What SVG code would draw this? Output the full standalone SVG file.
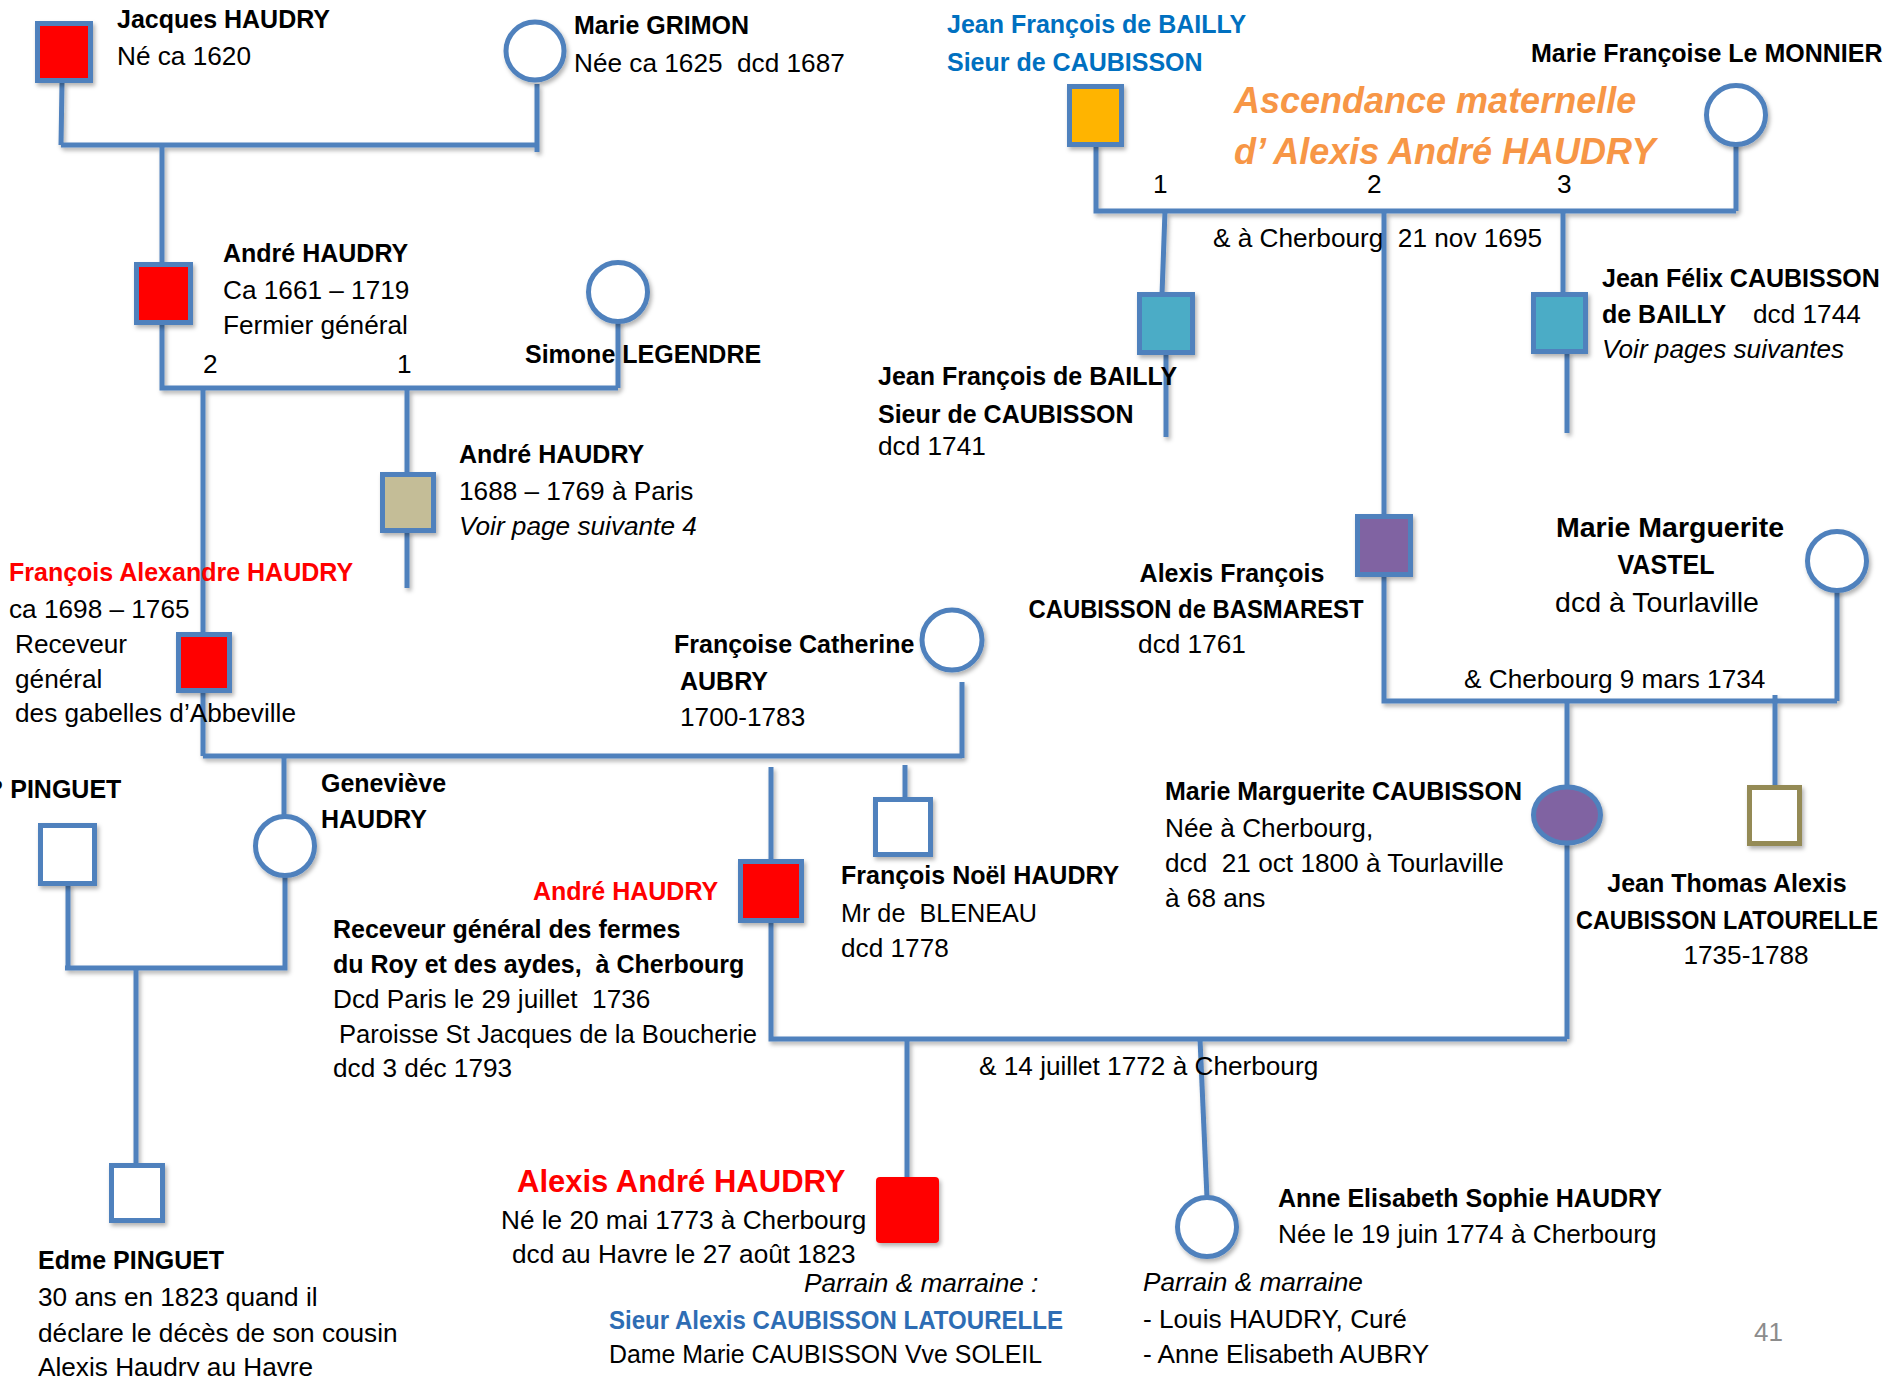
<svg xmlns="http://www.w3.org/2000/svg" width="1893" height="1376" viewBox="0 0 1893 1376">
<style>
text{font-family:"Liberation Sans",Arial,sans-serif;font-size:26.2px;fill:#000}
.b{font-weight:bold;font-size:25px}
.i{font-style:italic}
.red{fill:#FF0000}
.blue{fill:#0070C0}
.blue2{fill:#2E6DB4}
.title{font-weight:bold;font-style:italic;font-size:36px;fill:#F79646}
.mid{text-anchor:middle}
.big{font-size:28.5px}
.ln{stroke:#4F81BD;stroke-width:5;fill:none}
.nd{stroke:#4F81BD;stroke-width:5}
.white{fill:#FFFFFF}
.fred{fill:#FF0000}
.teal{fill:#4BACC6}
.purple{fill:#8064A2}
.beige{fill:#C4BD97}
.amber{fill:#FFB400}
</style>
<defs>
<filter id="sh" x="-30%" y="-30%" width="160%" height="160%">
<feDropShadow dx="2" dy="3" stdDeviation="2" flood-color="#000" flood-opacity="0.3"/>
</filter>
</defs>
<rect width="1893" height="1376" fill="#FFFFFF"/>
<g id="connectors" class="ln" filter="url(#sh)">
<path d="M62,83 L61,145 M61,145 H537 M537,84 V152"/>
<path d="M162,145 V265"/>
<path d="M162,323 V388 H618 M618,321 V388"/>
<path d="M203,388 V756"/>
<path d="M407,388 V475 M407,531 V588"/>
<path d="M203,756 H962 M962,682 V758"/>
<path d="M284,756 V817"/>
<path d="M285,875 V968 H65 M68,884 V968"/>
<path d="M136,968 V1166"/>
<path d="M771,767 V862"/>
<path d="M905,765 V800"/>
<path d="M771,921 V1039 H1567 M1567,842 V1039"/>
<path d="M907,1039 V1179"/>
<path d="M1200,1039 L1207,1198"/>
<path d="M1096,145 V211 H1736 M1736,143 V211"/>
<path d="M1165,211 L1162,295 M1166,353 V437"/>
<path d="M1384,211 V517 M1384,575 V701 H1837 M1837,589 V701"/>
<path d="M1563,211 V295 M1567,352 V433"/>
<path d="M1567,701 V788"/>
<path d="M1775,695 V788"/>
</g>
<g id="n-jacques">
<rect class="nd fred" x="37.5" y="23.5" width="53" height="57" filter="url(#sh)"/>
<text class="b" x="117" y="28">Jacques HAUDRY</text>
<text x="117" y="65">Né ca 1620</text>
</g>
<g id="n-grimon">
<circle class="nd white" cx="535" cy="51" r="29" filter="url(#sh)"/>
<text class="b" x="574" y="34">Marie GRIMON</text>
<text x="574" y="72">Née ca 1625&#160; dcd 1687</text>
</g>
<g id="n-andre1661">
<rect class="nd fred" x="136.5" y="264.5" width="54" height="58" filter="url(#sh)"/>
<text class="b" x="223" y="262">André HAUDRY</text>
<text x="223" y="299">Ca 1661 – 1719</text>
<text x="223" y="334">Fermier général</text>
<text x="203" y="373">2</text>
<text x="397" y="373">1</text>
</g>
<g id="n-simone">
<circle class="nd white" cx="618" cy="292" r="29.5" filter="url(#sh)"/>
<text class="b" x="525" y="363">Simone LEGENDRE</text>
</g>
<g id="n-andre1688">
<rect class="nd beige" x="382.5" y="474.5" width="51" height="56" filter="url(#sh)"/>
<text class="b" x="459" y="463">André HAUDRY</text>
<text x="459" y="500">1688 – 1769 à Paris</text>
<text class="i" x="459" y="535">Voir page suivante 4</text>
</g>
<g id="n-francois-alexandre">
<rect class="nd fred" x="178.5" y="634.5" width="51" height="56" filter="url(#sh)"/>
<text class="b red" x="9" y="581">François Alexandre HAUDRY</text>
<text x="9" y="618">ca 1698 – 1765</text>
<text x="15" y="653">Receveur</text>
<text x="15" y="688">général</text>
<text x="15" y="722">des gabelles d’Abbeville</text>
</g>
<g id="n-francoise-catherine">
<circle class="nd white" cx="952" cy="640" r="30" filter="url(#sh)"/>
<text class="b" x="674" y="653">Françoise Catherine</text>
<text class="b" x="680" y="690">AUBRY</text>
<text x="680" y="726">1700-1783</text>
</g>
<g id="n-pinguet">
<rect class="nd white" x="40.5" y="825.5" width="54" height="58" filter="url(#sh)"/>
<text class="b" x="-12" y="798">? PINGUET</text>
</g>
<g id="n-genevieve">
<circle class="nd white" cx="285" cy="846" r="29.5" filter="url(#sh)"/>
<text class="b" x="321" y="792">Geneviève</text>
<text class="b" x="321" y="828">HAUDRY</text>
</g>
<g id="n-edme">
<rect class="nd white" x="111.5" y="1165.5" width="51" height="55" filter="url(#sh)"/>
<text class="b" x="38" y="1269">Edme PINGUET</text>
<text x="38" y="1306">30 ans en 1823 quand il</text>
<text x="38" y="1342">déclare le décès de son cousin</text>
<text x="38" y="1376">Alexis Haudry au Havre</text>
</g>
<g id="n-francois-noel">
<rect class="nd white" x="875.5" y="799.5" width="55" height="55" filter="url(#sh)"/>
<text class="b" x="841" y="884">François Noël HAUDRY</text>
<text x="841" y="922" textLength="196" lengthAdjust="spacingAndGlyphs">Mr de&#160; BLENEAU</text>
<text x="841" y="957">dcd 1778</text>
</g>
<g id="n-andre-cherbourg">
<rect class="nd fred" x="740.5" y="861.5" width="61" height="59" filter="url(#sh)"/>
<text class="b red" x="533" y="900">André HAUDRY</text>
<text class="b" x="333" y="938">Receveur général des fermes</text>
<text class="b" x="333" y="973">du Roy et des aydes,&#160; à Cherbourg</text>
<text x="333" y="1008">Dcd Paris le 29 juillet&#160; 1736</text>
<text x="339" y="1043" textLength="418" lengthAdjust="spacingAndGlyphs">Paroisse St Jacques de la Boucherie</text>
<text x="333" y="1077">dcd 3 déc 1793</text>
</g>
<g id="marriage-1772">
<text x="979" y="1075">&amp; 14 juillet 1772 à Cherbourg</text>
</g>
<g id="n-alexis-andre">
<rect class="fred" x="876" y="1177" width="63" height="66" rx="4" filter="url(#sh)"/>
<text class="b red" style="font-size:31px" x="517" y="1192">Alexis André HAUDRY</text>
<text x="501" y="1229">Né le 20 mai 1773 à Cherbourg</text>
<text x="512" y="1263">dcd au Havre le 27 août 1823</text>
<text class="i" x="804" y="1292">Parrain &amp; marraine :</text>
<text class="b blue2" x="609" y="1329" textLength="454" lengthAdjust="spacingAndGlyphs">Sieur Alexis CAUBISSON LATOURELLE</text>
<text x="609" y="1363" textLength="433" lengthAdjust="spacingAndGlyphs">Dame Marie CAUBISSON Vve SOLEIL</text>
</g>
<g id="n-anne">
<circle class="nd white" cx="1207" cy="1227" r="29.5" filter="url(#sh)"/>
<text class="b" x="1278" y="1207">Anne Elisabeth Sophie HAUDRY</text>
<text x="1278" y="1243">Née le 19 juin 1774 à Cherbourg</text>
<text class="i" x="1143" y="1291">Parrain &amp; marraine</text>
<text x="1143" y="1328">- Louis HAUDRY, Curé</text>
<text x="1143" y="1363">- Anne Elisabeth AUBRY</text>
</g>
<g id="n-bailly">
<rect class="nd amber" x="1069.5" y="86.5" width="52" height="58" filter="url(#sh)"/>
<text class="b blue" x="947" y="33">Jean François de BAILLY</text>
<text class="b blue" x="947" y="71">Sieur de CAUBISSON</text>
<text x="1153" y="193">1</text>
<text x="1367" y="193">2</text>
<text x="1557" y="193">3</text>
<text x="1213" y="247">&amp; à Cherbourg&#160; 21 nov 1695</text>
</g>
<g id="n-monnier">
<circle class="nd white" cx="1736" cy="115" r="29.5" filter="url(#sh)"/>
<text class="b" x="1531" y="62">Marie Françoise Le MONNIER</text>
</g>
<g id="title">
<text class="title" x="1234" y="113">Ascendance maternelle</text>
<text class="title" x="1234" y="164">d’ Alexis André HAUDRY</text>
</g>
<g id="n-jf-bailly-1741">
<rect class="nd teal" x="1139.5" y="294.5" width="53" height="58" filter="url(#sh)"/>
<text class="b" x="878" y="385">Jean François de BAILLY</text>
<text class="b" x="878" y="423">Sieur de CAUBISSON</text>
<text x="878" y="455">dcd 1741</text>
</g>
<g id="n-jean-felix">
<rect class="nd teal" x="1533.5" y="294.5" width="52" height="57" filter="url(#sh)"/>
<text class="b" x="1602" y="287">Jean Félix CAUBISSON</text>
<text class="b" x="1602" y="323">de BAILLY</text>
<text x="1753" y="323">dcd 1744</text>
<text class="i" x="1602" y="358">Voir pages suivantes</text>
</g>
<g id="n-alexis-francois">
<rect class="nd purple" x="1357.5" y="516.5" width="53" height="58" filter="url(#sh)"/>
<text class="b mid" x="1232" y="582">Alexis François</text>
<text class="b mid" x="1196" y="618" textLength="335" lengthAdjust="spacingAndGlyphs">CAUBISSON de BASMAREST</text>
<text class="mid" x="1192" y="653">dcd 1761</text>
</g>
<g id="n-vastel">
<circle class="nd white" cx="1837" cy="561" r="29.5" filter="url(#sh)"/>
<text class="b mid big" x="1670" y="537">Marie Marguerite</text>
<text class="b mid big" x="1666" y="574" textLength="97" lengthAdjust="spacingAndGlyphs">VASTEL</text>
<text class="mid big" x="1657" y="612">dcd à Tourlaville</text>
<text x="1464" y="688">&amp; Cherbourg 9 mars 1734</text>
</g>
<g id="n-marie-marguerite">
<ellipse class="nd purple" cx="1567" cy="815" rx="33.5" ry="28" filter="url(#sh)"/>
<text class="b" x="1165" y="800">Marie Marguerite CAUBISSON</text>
<text x="1165" y="837">Née à Cherbourg,</text>
<text x="1165" y="872">dcd&#160; 21 oct 1800 à Tourlaville</text>
<text x="1165" y="907">à 68 ans</text>
</g>
<g id="n-jean-thomas">
<rect x="1749.5" y="787.5" width="50" height="56" fill="#FFFFFF" stroke="#948A54" stroke-width="5" filter="url(#sh)"/>
<text class="b mid" x="1727" y="892">Jean Thomas Alexis</text>
<text class="b mid" x="1727" y="929" textLength="302" lengthAdjust="spacingAndGlyphs">CAUBISSON LATOURELLE</text>
<text class="mid" x="1746" y="964">1735-1788</text>
</g>
<g id="page-number">
<text x="1754" y="1341" style="fill:#8C8C8C;font-size:26px">41</text>
</g>
</svg>
